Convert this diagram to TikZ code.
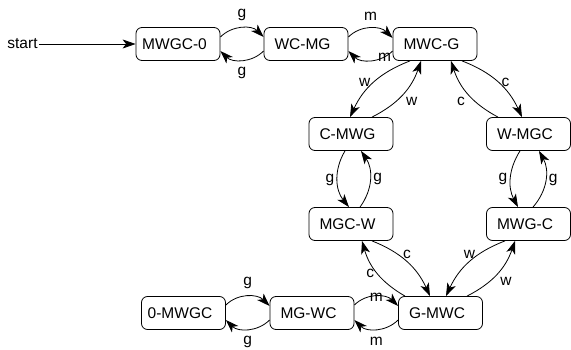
\documentclass[tikz,border=0pt]{standalone}
\usepackage{fontspec}
\setmainfont{Liberation Sans}
\usetikzlibrary{arrows.meta}
\begin{document}
\begin{tikzpicture}[x=1pt,y=1pt,
  font=\fontsize{15.5}{18}\selectfont,
  state/.style={draw, rounded corners=6pt, minimum width=84pt, minimum height=33pt, inner sep=3pt,
    execute at end node={\hspace{7pt}}, line width=0.8pt},
  arr/.style={line width=0.8pt, -{Stealth[length=13pt,width=9pt,inset=3.5pt]}},
  lbl/.style={inner sep=3pt}]
\useasboundingbox (0,0) rectangle (571,349);
\node[state] (m0)   at (178,305)   {MWGC-0};
\node[state] (wcmg) at (306,305)   {WC-MG};
\node[state] (mwcg) at (435,305)   {MWC-G};
\node[state] (cmwg) at (351,215)   {C-MWG};
\node[state] (wmgc) at (528.5,215) {W-MGC};
\node[state] (mgcw) at (351,125)   {MGC-W};
\node[state] (mwgc) at (528.5,125) {MWG-C};
\node[state] (gmwc) at (440.5,36)  {G-MWC};
\node[state] (mgwc) at (312,36)    {MG-WC};
\node[state] (z0)   at (183.5,36)  {0-MWGC};
\node[inner sep=1pt] (start) at (22.5,305) {start};

\draw[arr] (start.east) -- (m0.west);
% top row
\draw[arr] ([yshift=7pt]m0.east) to[out=45,in=135] node[lbl,above=4pt]{g} ([yshift=7pt]wcmg.west);
\draw[arr] ([yshift=-7pt]wcmg.west) to[out=-135,in=-45] node[lbl,below=4pt]{g} ([yshift=-7pt]m0.east);
\draw[arr] ([yshift=7pt]wcmg.east) to[out=45,in=135] node[lbl,above=4pt]{m} ([yshift=6pt]mwcg.west);
\draw[arr] ([yshift=-7pt]mwcg.west) to[out=-135,in=-45] node[lbl,pos=0.2]{m} ([yshift=-7pt]wcmg.east);
% upper diagonals
\draw[arr] ([xshift=-25pt]mwcg.south) to[bend right=22] node[lbl,left,pos=0.5]{w} ([xshift=-1pt]cmwg.north);
\draw[arr] ([xshift=21pt]cmwg.north) to[bend right=22] node[lbl,below right,pos=0.5]{w} ([xshift=-14pt]mwcg.south);
\draw[arr] ([xshift=27pt]mwcg.south) to[bend left=22] node[lbl,right,pos=0.5]{c} ([xshift=-6.5pt]wmgc.north);
\draw[arr] ([xshift=-30.5pt]wmgc.north) to[bend left=22] node[lbl,below left,pos=0.5]{c} ([xshift=16pt]mwcg.south);
% vertical pairs
\draw[arr] ([xshift=-6pt]cmwg.south) to[bend right=35] node[lbl,left]{g} ([xshift=-2pt]mgcw.north);
\draw[arr] ([xshift=9pt]mgcw.north) to[bend right=35] node[lbl,right]{g} ([xshift=10pt]cmwg.south);
\draw[arr] ([xshift=-8.5pt]wmgc.south) to[bend right=30] node[lbl,left]{g} ([xshift=-10.5pt]mwgc.north);
\draw[arr] ([xshift=4.5pt]mwgc.north) to[bend right=35] node[lbl,right]{g} ([xshift=10.5pt]wmgc.south);
% lower diagonals
\draw[arr] ([xshift=21pt]mgcw.south) to[bend left=22] node[lbl,above]{c} ([xshift=-10.5pt]gmwc.north);
\draw[arr] ([xshift=-35.5pt]gmwc.north) to[bend left=22] node[lbl,left]{c} ([xshift=11pt]mgcw.south);
\draw[arr] ([xshift=-23.5pt]mwgc.south) to[bend right=22] node[lbl,above]{w} ([xshift=5.5pt]gmwc.north);
\draw[arr] ([xshift=26.5pt]gmwc.north) to[bend right=22] node[lbl,below right]{w} ([xshift=-13.5pt]mwgc.south);
% bottom row
\draw[arr] ([yshift=8pt]z0.east) to[out=45,in=135] node[lbl,above=4pt]{g} ([yshift=7pt]mgwc.west);
\draw[arr] ([yshift=-7pt]mgwc.west) to[out=-135,in=-45] node[lbl,below=4pt]{g} ([yshift=-7pt]z0.east);
\draw[arr] ([yshift=8pt]mgwc.east) to[out=45,in=135] node[lbl,midway,yshift=-1pt]{m} ([yshift=7pt]gmwc.west);
\draw[arr] ([yshift=-7pt]gmwc.west) to[out=-135,in=-45] node[lbl,below=5pt]{m} ([yshift=-7pt]mgwc.east);
\end{tikzpicture}
\end{document}
